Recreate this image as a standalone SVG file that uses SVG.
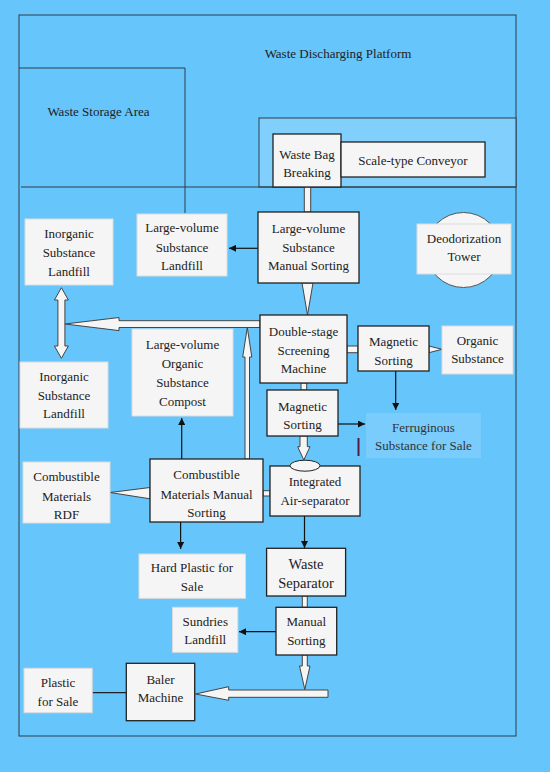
<svg xmlns="http://www.w3.org/2000/svg" width="550" height="772" viewBox="0 0 550 772">
<defs>
<style>
.bg{fill:#66C5FB}
.zone{fill:none;stroke:#2f3d48;stroke-width:1}
.proc{fill:#F5F5F5;stroke:#222;stroke-width:1.3}
.out{fill:#F5F5F5;stroke:#DCDCDC;stroke-width:1}
.t{font-family:"Liberation Serif","Times New Roman",serif;font-size:13px;fill:#222;text-anchor:middle}
.hol{fill:#F5F5F5;stroke:#444;stroke-width:1}
.ln{fill:none;stroke:#111;stroke-width:1.2}
</style>
<marker id="ah" viewBox="0 0 10 10" refX="10" refY="5" markerWidth="7" markerHeight="7" markerUnits="userSpaceOnUse" orient="auto">
<path d="M0,0 L10,5 L0,10 z" fill="#111"/>
</marker>
</defs>
<rect class="bg" x="0" y="0" width="550" height="772"/>

<g id="areas">
<rect class="zone" x="19" y="15" width="497" height="721"/>
<text class="t" x="338" y="57.5">Waste Discharging Platform</text>
<path class="zone" d="M19,68 H185 V213"/>
<text class="t" x="98.5" y="116">Waste Storage Area</text>
<rect x="259" y="118" width="257" height="69" fill="#80CFFC" stroke="#2f3d48" stroke-width="1"/>
<path class="zone" d="M21,187 H516"/>
</g>

<g id="connectors">
<rect class="hol" x="304.3" y="187" width="6.4" height="25"/>
<line class="ln" x1="258" y1="248.3" x2="229" y2="248.3" marker-end="url(#ah)"/>
<polygon class="hol" points="302,283 313,283 307.5,315"/>
<polygon class="hol" points="260,320.7 119,320.7 119,317.5 65,324 119,330.6 119,327.5 260,327.5"/>
<polygon class="hol" points="245,459 245,357 242.7,357 247.3,327.5 251.8,357 249.5,357 249.5,459"/>
<polygon class="hol" points="61.4,287.7 68.4,300 64.9,300 64.9,346 68.4,346 61.4,358.3 54.4,346 57.9,346 57.9,300 54.4,300"/>
<polygon class="hol" points="150,487.5 150,498.8 110,492.5"/>
<rect class="hol" x="263" y="490.7" width="7" height="5.3"/>
<line class="ln" x1="181.7" y1="459" x2="181.7" y2="418" marker-end="url(#ah)"/>
<rect class="hol" x="347" y="346" width="11" height="6.7"/>
<polygon class="hol" points="429,346 429,352.7 442,349.3"/>
<line class="ln" x1="395.7" y1="371" x2="395.7" y2="410" marker-end="url(#ah)"/>
<rect class="hol" x="301" y="383" width="5.7" height="7"/>
<line class="ln" x1="338" y1="424" x2="365" y2="424" marker-end="url(#ah)"/>
<polygon class="hol" points="300,436 307.3,436 307.3,446.7 310,446.7 303.8,460 297.7,446.7 300,446.7"/>
<line class="ln" x1="180.6" y1="522" x2="180.6" y2="549" marker-end="url(#ah)"/>
<line class="ln" x1="304.5" y1="516" x2="304.5" y2="548" marker-end="url(#ah)"/>
<rect class="hol" x="302.3" y="596" width="5" height="11.3"/>
<line class="ln" x1="276" y1="631.7" x2="239" y2="631.7" marker-end="url(#ah)"/>
<polygon class="hol" points="302.3,655 307.3,655 307.3,666 310,666 304.8,689.5 299.5,666 302.3,666"/>
<polygon class="hol" points="328,690 328,697.3 228.7,697.3 228.7,700.3 195.5,694 228.7,686.7 228.7,690"/>
<line x1="92.2" y1="692.7" x2="126.3" y2="692.7" stroke="#222" stroke-width="1.2"/>
<line x1="358.5" y1="438" x2="358.5" y2="456" stroke="#5a1a40" stroke-width="2"/>
</g>

<g id="wbb">
<rect class="proc" x="273" y="134" width="68" height="53"/>
<text class="t" x="307" y="158.5">Waste Bag</text>
<text class="t" x="307" y="176.5">Breaking</text>
</g>
<g id="conveyor">
<rect class="proc" x="341" y="142" width="144" height="35"/>
<text class="t" x="413" y="165">Scale-type Conveyor</text>
</g>
<g id="lvsms">
<rect class="proc" x="258" y="212" width="101" height="71"/>
<text class="t" x="308.5" y="232.8">Large-volume</text>
<text class="t" x="308.5" y="251.8">Substance</text>
<text class="t" x="308.5" y="269.8">Manual Sorting</text>
</g>
<g id="deodor">
<circle cx="463.5" cy="250" r="37.5" fill="#F5F5F5" stroke="#555" stroke-width="1"/>
<rect class="out" x="417" y="224" width="94" height="50"/>
<text class="t" x="464" y="242.8">Deodorization</text>
<text class="t" x="464" y="261">Tower</text>
</g>
<g id="lvsl">
<rect class="out" x="137" y="214" width="90" height="62"/>
<text class="t" x="182" y="232">Large-volume</text>
<text class="t" x="182" y="251.5">Substance</text>
<text class="t" x="182" y="270">Landfill</text>
</g>
<g id="isl1">
<rect class="out" x="25" y="219" width="88" height="66"/>
<text class="t" x="69" y="237.8">Inorganic</text>
<text class="t" x="69" y="257">Substance</text>
<text class="t" x="69" y="275.8">Landfill</text>
</g>
<g id="isl2">
<rect class="out" x="20" y="362" width="88" height="66"/>
<text class="t" x="64" y="380.5">Inorganic</text>
<text class="t" x="64" y="399.8">Substance</text>
<text class="t" x="64" y="418.2">Landfill</text>
</g>
<g id="dsm">
<rect class="proc" x="260" y="315" width="87" height="68"/>
<text class="t" x="303.5" y="335.5">Double-stage</text>
<text class="t" x="303.5" y="354.5">Screening</text>
<text class="t" x="303.5" y="372.8">Machine</text>
</g>
<g id="ms1">
<rect class="proc" x="358" y="326" width="71" height="45"/>
<text class="t" x="393.5" y="346.2">Magnetic</text>
<text class="t" x="393.5" y="364.5">Sorting</text>
</g>
<g id="organic">
<rect class="out" x="442" y="326" width="71" height="48"/>
<text class="t" x="477.5" y="344.5">Organic</text>
<text class="t" x="477.5" y="362.8">Substance</text>
</g>
<g id="lvosc">
<rect class="out" x="132" y="329" width="101" height="87"/>
<text class="t" x="182.5" y="348.5">Large-volume</text>
<text class="t" x="182.5" y="367.8">Organic</text>
<text class="t" x="182.5" y="386.8">Substance</text>
<text class="t" x="182.5" y="405.5">Compost</text>
</g>
<g id="ms2">
<rect class="proc" x="267" y="390" width="71" height="46"/>
<text class="t" x="302.5" y="410.5">Magnetic</text>
<text class="t" x="302.5" y="428.8">Sorting</text>
</g>
<g id="ferr">
<rect x="366" y="413" width="115" height="45" fill="#79CCFB"/>
<text class="t" x="423.5" y="431.8" style="fill:#333">Ferruginous</text>
<text class="t" x="423.5" y="450.2" style="fill:#333">Substance for Sale</text>
</g>
<g id="ias">
<rect class="proc" x="270" y="466" width="90" height="50"/>
<ellipse cx="305" cy="465.7" rx="15" ry="5.5" fill="#F5F5F5" stroke="#222" stroke-width="1"/>
<text class="t" x="315" y="486.2">Integrated</text>
<text class="t" x="315" y="504.5">Air-separator</text>
</g>
<g id="rdf">
<rect class="out" x="23" y="462" width="87" height="61"/>
<text class="t" x="66.5" y="481.2">Combustible</text>
<text class="t" x="66.5" y="500.5">Materials</text>
<text class="t" x="66.5" y="518.8">RDF</text>
</g>
<g id="cmms">
<rect class="proc" x="150" y="459" width="113" height="63"/>
<text class="t" x="206.5" y="478.8">Combustible</text>
<text class="t" x="206.5" y="498.5">Materials Manual</text>
<text class="t" x="206.5" y="516.5">Sorting</text>
</g>
<g id="hps">
<rect class="out" x="139" y="554" width="106.5" height="44.3"/>
<text class="t" x="192" y="572.2">Hard Plastic for</text>
<text class="t" x="192" y="590.5">Sale</text>
</g>
<g id="ws">
<rect class="proc" x="266.6" y="548.3" width="79" height="47.7"/>
<text class="t" x="306" y="569" style="font-size:14.5px">Waste</text>
<text class="t" x="306" y="587.7" style="font-size:14.5px">Separator</text>
</g>
<g id="msort">
<rect class="proc" x="276" y="607.3" width="60.7" height="47.7"/>
<text class="t" x="306.3" y="626.2">Manual</text>
<text class="t" x="306.3" y="644.5">Sorting</text>
</g>
<g id="sundries">
<rect class="out" x="172.6" y="607.3" width="65.2" height="45"/>
<text class="t" x="205.2" y="625.5">Sundries</text>
<text class="t" x="205.2" y="643.8">Landfill</text>
</g>
<g id="baler">
<rect class="proc" x="126.3" y="663.3" width="68.4" height="57.4"/>
<text class="t" x="160.5" y="683.8">Baler</text>
<text class="t" x="160.5" y="701.8">Machine</text>
</g>
<g id="pfs">
<rect class="out" x="24" y="668.3" width="68.2" height="44.4"/>
<text class="t" x="58" y="687.2">Plastic</text>
<text class="t" x="58" y="705.5">for Sale</text>
</g>
</svg>
